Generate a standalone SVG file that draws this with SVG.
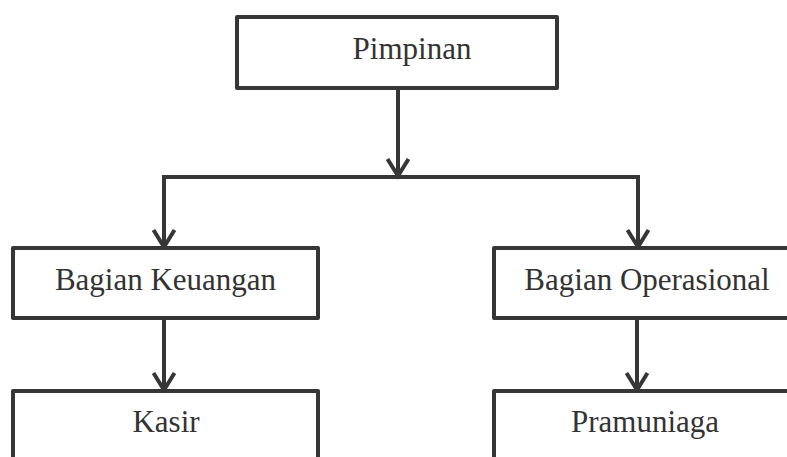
<svg xmlns="http://www.w3.org/2000/svg" width="787" height="457" viewBox="0 0 787 457">
<style>
.box{fill:#ffffff;stroke:#363636;stroke-width:4;stroke-linejoin:round}
.lbl{font-family:"Liberation Serif","Times New Roman",serif;font-size:31px;fill:#333333;text-anchor:middle}
.con{fill:none;stroke:#363636;stroke-width:4;stroke-linejoin:miter}
</style>
<defs>
<marker id="arr" markerUnits="userSpaceOnUse" markerWidth="30" markerHeight="30" viewBox="-15 -25 30 30" refX="0" refY="0" orient="auto-start-reverse" overflow="visible">
<path d="M-10.5,-17 L0,0 L10.5,-17" fill="none" stroke="#363636" stroke-width="4" transform="rotate(-90)"/>
</marker>
</defs>
<rect width="787" height="457" fill="#ffffff"/>
<g id="connectors">
<path class="con" d="M398,88 V176" marker-end="url(#arr)"/>
<path class="con" d="M164,247 V177 H638 V247" marker-start="url(#arr)" marker-end="url(#arr)"/>
<path class="con" d="M164,318 V390" marker-end="url(#arr)"/>
<path class="con" d="M637,318 V390" marker-end="url(#arr)"/>
</g>
<g id="pimpinan">
<rect class="box" x="237" y="17" width="320" height="71"/>
<text class="lbl" x="412" y="59">Pimpinan</text>
</g>
<g id="bagian-keuangan">
<rect class="box" x="13" y="248" width="305" height="70"/>
<text class="lbl" x="165.5" y="290">Bagian Keuangan</text>
</g>
<g id="bagian-operasional">
<rect class="box" x="494" y="248" width="320" height="70"/>
<text class="lbl" x="647" y="290">Bagian Operasional</text>
</g>
<g id="kasir">
<rect class="box" x="13" y="391" width="305" height="90"/>
<text class="lbl" x="166" y="432">Kasir</text>
</g>
<g id="pramuniaga">
<rect class="box" x="494" y="391" width="320" height="90"/>
<text class="lbl" x="645" y="432">Pramuniaga</text>
</g>
</svg>
